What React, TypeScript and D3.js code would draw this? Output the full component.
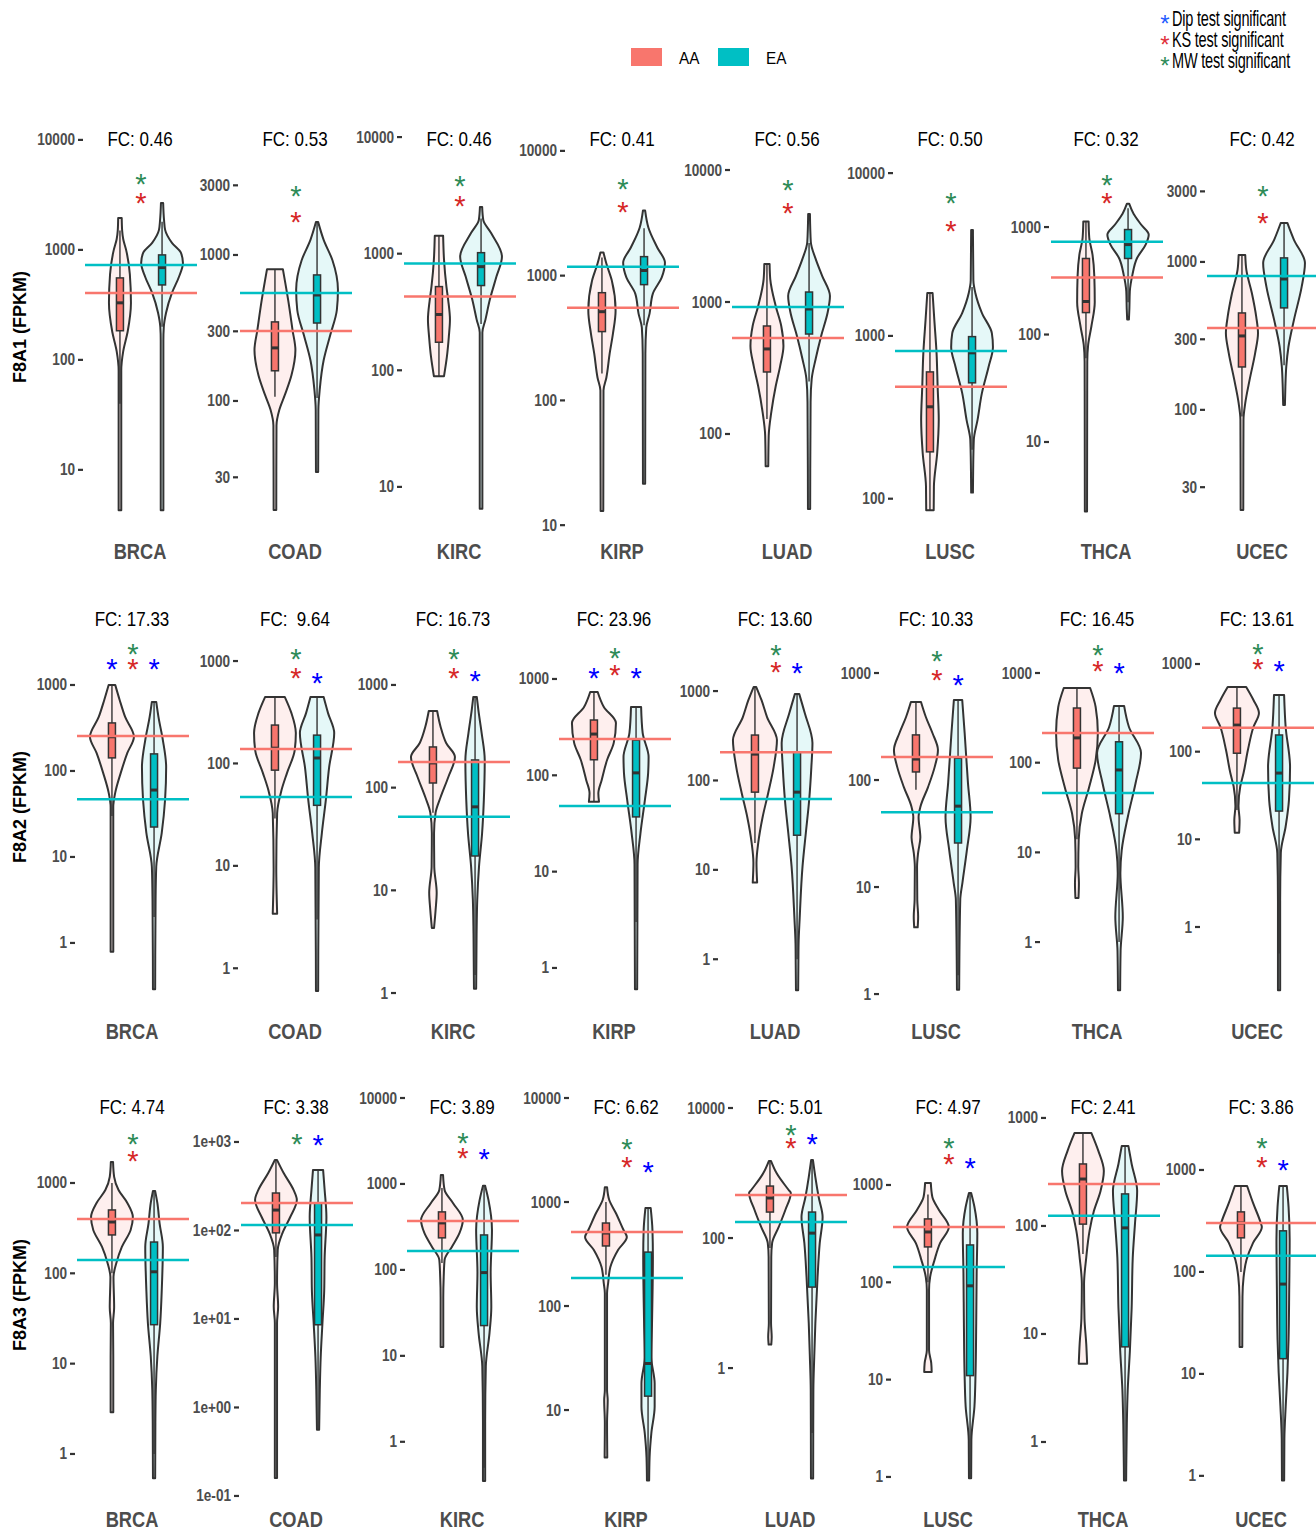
import * as d3 from "d3";

// genes (rows) and cancer types (columns)
const genes = ["F8A1", "F8A2", "F8A3"];
const cancers = ["BRCA", "COAD", "KIRC", "KIRP", "LUAD", "LUSC", "THCA", "UCEC"];

const fcLabels = [
  ["0.46", "0.53", "0.46", "0.41", "0.56", "0.50", "0.32", "0.42"],
  ["17.33", " 9.64", "16.73", "23.96", "13.60", "10.33", "16.45", "13.61"],
  ["4.74", "3.38", "3.89", "6.62", "5.01", "4.97", "2.41", "3.86"],
];

const tickLabels = [
  [["10000", "1000", "100", "10"], ["3000", "1000", "300", "100", "30"], ["10000", "1000", "100", "10"], ["10000", "1000", "100", "10"],
   ["10000", "1000", "100"], ["10000", "1000", "100"], ["1000", "100", "10"], ["3000", "1000", "300", "100", "30"]],
  [["1000", "100", "10", "1"], ["1000", "100", "10", "1"], ["1000", "100", "10", "1"], ["1000", "100", "10", "1"],
   ["1000", "100", "10", "1"], ["1000", "100", "10", "1"], ["1000", "100", "10", "1"], ["1000", "100", "10", "1"]],
  [["1000", "100", "10", "1"], ["1e+03", "1e+02", "1e+01", "1e+00", "1e-01"], ["10000", "1000", "100", "10", "1"], ["10000", "1000", "100", "10"],
   ["10000", "100", "1"], ["1000", "100", "10", "1"], ["1000", "100", "10", "1"], ["1000", "100", "10", "1"]],
];

// y range (FPKM) covered by each panel, bottom to top
const yDomains = [
  [[3.5, 12300], [15.3, 7180], [5.2, 11500], [11, 14700], [22.3, 20100], [74, 18400], [1.88, 8000], [18, 7800]],
  [[0.217, 7450], [0.49, 3150], [0.855, 5370], [0.465, 5200], [0.35, 8070], [0.88, 3880], [0.226, 5040], [0.147, 4130]],
  [[0.42, 8730], [0.123, 3140], [0.29, 10000], [1.78, 10000], [0.0143, 14250], [0.77, 7830], [0.375, 1530], [0.76, 5080]],
];

// violin outlines: [FPKM, relative density]
const aaViolins = [
  [
    [[4.3, 0.06], [80, 0.06], [120, 0.15], [180, 0.35], [330, 0.5], [600, 0.45], [1000, 0.28], [1250, 0.15], [1500, 0.1], [1950, 0.08]],
    [[17.9, 0.06], [68, 0.07], [87, 0.2], [110, 0.45], [150, 0.75], [223, 0.93], [306, 0.8], [492, 0.6], [800, 0.36]],
    [[89, 0.23], [130, 0.36], [195, 0.45], [272, 0.5], [400, 0.42], [522, 0.34], [890, 0.23], [1425, 0.19]],
    [[13, 0.06], [120, 0.07], [152, 0.2], [237, 0.35], [343, 0.5], [524, 0.62], [912, 0.45], [1250, 0.2], [1530, 0.07]],
    [[57, 0.06], [97, 0.08], [147, 0.2], [231, 0.4], [327, 0.6], [464, 0.75], [658, 0.65], [930, 0.4], [1490, 0.15], [1940, 0.12]],
    [[85, 0.17], [119, 0.18], [191, 0.33], [305, 0.4], [487, 0.35], [787, 0.3], [1250, 0.2], [1835, 0.12]],
    [[2.25, 0.05], [56, 0.06], [80, 0.1], [120, 0.25], [200, 0.4], [350, 0.38], [550, 0.3], [800, 0.15], [1125, 0.12]],
    [[21, 0.06], [86, 0.07], [111, 0.15], [160, 0.35], [242, 0.6], [331, 0.73], [425, 0.65], [617, 0.45], [883, 0.2], [1115, 0.15]],
  ],
  [
    [[0.79, 0.06], [3.2, 0.06], [38, 0.06], [56, 0.15], [95, 0.4], [162, 0.7], [250, 1.0], [425, 0.6], [670, 0.35], [1000, 0.15]],
    [[3.4, 0.1], [9.6, 0.06], [32.6, 0.1], [55, 0.3], [81, 0.55], [135, 0.9], [198, 0.95], [310, 0.75], [445, 0.45]],
    [[4.3, 0.05], [6.4, 0.12], [9.5, 0.17], [17, 0.06], [36, 0.05], [57, 0.12], [81, 0.35], [127, 0.7], [199, 1.0], [272, 0.6], [390, 0.35], [558, 0.19]],
    [[53, 0.23], [65, 0.2], [89, 0.35], [145, 0.6], [217, 0.9], [350, 1.0], [512, 0.45], [733, 0.17]],
    [[7.2, 0.1], [12, 0.07], [20, 0.15], [39, 0.35], [72, 0.6], [141, 0.85], [283, 1.0], [512, 0.55], [790, 0.3], [1110, 0.06]],
    [[4.2, 0.08], [5.3, 0.1], [7.6, 0.06], [15.4, 0.05], [21, 0.1], [29, 0.2], [45, 0.12], [56, 0.2], [86, 0.55], [132, 0.85], [191, 1.0], [275, 0.75], [388, 0.45], [536, 0.23]],
    [[3.1, 0.07], [4.6, 0.09], [6.9, 0.06], [14, 0.08], [27, 0.22], [53, 0.55], [107, 0.85], [214, 0.95], [418, 0.85], [680, 0.6]],
    [[11.9, 0.1], [16.5, 0.12], [24, 0.07], [40, 0.15], [57, 0.3], [105, 0.5], [191, 0.75], [276, 1.0], [388, 0.75], [546, 0.42]],
  ],
  [
    [[2.9, 0.06], [12, 0.06], [28, 0.05], [42, 0.1], [91, 0.07], [130, 0.2], [196, 0.45], [302, 0.85], [420, 0.95], [601, 0.7], [836, 0.3], [1170, 0.1], [1710, 0.05]],
    [[0.16, 0.05], [9, 0.05], [13.7, 0.1], [25.6, 0.05], [60, 0.08], [94, 0.3], [142, 0.65], [221, 0.95], [287, 0.8], [446, 0.35], [626, 0.05]],
    [[12.7, 0.06], [48, 0.06], [83, 0.08], [131, 0.12], [185, 0.45], [269, 0.8], [381, 0.95], [601, 0.5], [851, 0.12], [1270, 0.05]],
    [[3.5, 0.06], [7.5, 0.05], [12.5, 0.08], [15.5, 0.05], [133, 0.05], [166, 0.1], [237, 0.2], [346, 0.55], [461, 0.95], [538, 0.8], [784, 0.45], [1045, 0.15], [1390, 0.05]],
    [[2.3, 0.06], [3, 0.08], [4.9, 0.05], [51, 0.06], [84, 0.1], [148, 0.4], [270, 0.7], [493, 0.95], [548, 0.85], [1000, 0.3], [1530, 0.05]],
    [[12, 0.17], [14.8, 0.15], [20, 0.05], [84, 0.05], [114, 0.1], [170, 0.3], [253, 0.55], [370, 0.95], [553, 0.5], [752, 0.2], [1050, 0.13]],
    [[5.3, 0.19], [8.1, 0.15], [14, 0.07], [29, 0.05], [51, 0.15], [90, 0.3], [138, 0.5], [211, 0.8], [323, 0.95], [495, 0.7], [727, 0.38]],
    [[18.4, 0.06], [57, 0.07], [89, 0.12], [131, 0.25], [193, 0.55], [276, 0.95], [302, 0.9], [475, 0.55], [697, 0.28]],
  ],
];

const eaViolins = [
  [
    [[4.3, 0.06], [150, 0.06], [200, 0.08], [267, 0.18], [406, 0.45], [570, 0.77], [760, 0.95], [940, 0.86], [1160, 0.45], [1520, 0.14], [1870, 0.09], [2670, 0.05]],
    [[32.6, 0.05], [87, 0.06], [119, 0.12], [190, 0.3], [283, 0.6], [420, 0.9], [577, 0.95], [920, 0.7], [1270, 0.3], [1680, 0.05]],
    [[6.5, 0.06], [211, 0.06], [272, 0.2], [404, 0.4], [636, 0.7], [943, 0.95], [1510, 0.45], [1950, 0.1], [2520, 0.05]],
    [[21.5, 0.05], [237, 0.06], [383, 0.1], [496, 0.25], [718, 0.4], [964, 0.8], [1270, 0.95], [1680, 0.6], [2420, 0.2], [3320, 0.05]],
    [[27, 0.05], [175, 0.07], [261, 0.12], [370, 0.3], [553, 0.55], [840, 0.85], [1110, 0.95], [1570, 0.6], [2120, 0.3], [2850, 0.08], [4640, 0.04]],
    [[109, 0.04], [150, 0.05], [230, 0.08], [305, 0.25], [447, 0.45], [645, 0.75], [856, 0.95], [1040, 0.9], [1380, 0.45], [1835, 0.15], [2200, 0.06], [4470, 0.04]],
    [[138, 0.04], [174, 0.06], [251, 0.08], [361, 0.2], [510, 0.4], [687, 0.8], [850, 0.94], [1050, 0.6], [1330, 0.25], [1650, 0.05]],
    [[108, 0.04], [143, 0.06], [195, 0.1], [267, 0.2], [406, 0.45], [678, 0.8], [984, 0.95], [1410, 0.45], [1835, 0.15]],
  ],
  [
    [[0.29, 0.05], [3.2, 0.07], [7.7, 0.1], [19, 0.35], [46, 0.5], [111, 0.55], [229, 0.4], [425, 0.2], [635, 0.1]],
    [[0.6, 0.05], [9.6, 0.08], [21, 0.22], [44, 0.4], [92, 0.55], [198, 0.78], [310, 0.5], [445, 0.3]],
    [[1.1, 0.05], [3.8, 0.07], [8.1, 0.1], [17, 0.18], [36, 0.32], [76, 0.4], [186, 0.44], [340, 0.3], [571, 0.15], [764, 0.08]],
    [[0.6, 0.05], [12, 0.07], [25, 0.2], [55, 0.4], [106, 0.55], [155, 0.57], [275, 0.3], [512, 0.23]],
    [[0.45, 0.05], [0.86, 0.06], [1.5, 0.07], [2.9, 0.12], [11, 0.25], [26, 0.4], [60, 0.55], [141, 0.65], [262, 0.7], [567, 0.35], [925, 0.1]],
    [[1.1, 0.05], [7.6, 0.1], [11, 0.2], [22, 0.4], [45, 0.57], [94, 0.45], [275, 0.3], [560, 0.19]],
    [[0.29, 0.05], [0.8, 0.07], [1.9, 0.17], [5.9, 0.06], [10.5, 0.12], [25, 0.4], [59, 0.75], [128, 1.0], [250, 0.45], [430, 0.23]],
    [[0.19, 0.05], [2, 0.05], [7, 0.08], [14, 0.3], [28, 0.45], [67, 0.5], [191, 0.3], [443, 0.23]],
  ],
  [
    [[0.54, 0.05], [2.2, 0.06], [5.1, 0.08], [12, 0.15], [28, 0.28], [65, 0.35], [196, 0.4], [360, 0.25], [601, 0.15], [815, 0.05]],
    [[0.56, 0.05], [1.6, 0.08], [3.7, 0.12], [9, 0.2], [21, 0.28], [50, 0.3], [142, 0.38], [287, 0.3], [483, 0.23]],
    [[0.35, 0.05], [1.7, 0.05], [7.5, 0.08], [18.6, 0.25], [37, 0.33], [93, 0.3], [292, 0.36], [652, 0.2], [950, 0.05]],
    [[2.1, 0.05], [3.5, 0.07], [6, 0.15], [10.8, 0.3], [18, 0.3], [32, 0.15], [68.5, 0.18], [296, 0.22], [538, 0.2], [875, 0.12]],
    [[0.02, 0.05], [0.46, 0.06], [1.5, 0.1], [4.9, 0.15], [25, 0.25], [84, 0.35], [210, 0.48], [427, 0.3], [866, 0.15], [1590, 0.04]],
    [[0.97, 0.05], [2.4, 0.06], [5.3, 0.2], [11.7, 0.25], [38, 0.28], [124, 0.3], [321, 0.33], [594, 0.2], [828, 0.05]],
    [[0.44, 0.05], [1.47, 0.08], [3, 0.12], [7, 0.22], [17.4, 0.3], [51, 0.35], [104, 0.45], [211, 0.55], [375, 0.3], [551, 0.15]],
    [[0.9, 0.05], [2.3, 0.06], [4.8, 0.12], [10.3, 0.2], [21.6, 0.25], [67, 0.28], [206, 0.3], [434, 0.25], [697, 0.17]],
  ],
];

// boxplots: [whisker low, q1, median, q3, whisker high]
const aaBoxes = [
  [[40, 184, 330, 556, 1500], [107, 161, 231, 348, 800], [89, 174, 301, 522, 1425], [164, 356, 514, 730, 1400], [130, 295, 441, 658, 1940], [85, 194, 367, 601, 1835], [60, 160, 203, 510, 1125], [90, 195, 316, 452, 1115]],
  [[30, 142, 250, 362, 1000], [29, 86, 141, 237, 445], [57, 111, 174, 249, 558], [53, 145, 268, 375, 733], [20, 74, 197, 322, 1110], [81, 119, 157, 264, 536], [14, 87, 189, 407, 680], [21.6, 96, 201, 314, 546]],
  [[100, 266, 370, 503, 1000], [50, 94, 170, 265, 626], [120, 236, 352, 473, 900], [200, 378, 503, 628, 1000], [70, 251, 413, 630, 1530], [100, 231, 329, 448, 800], [55, 104, 272, 375, 727], [100, 216, 302, 388, 697]],
];
const eaBoxes = [
  [[200, 480, 690, 900, 1800], [105, 342, 532, 730, 1680], [250, 533, 774, 1020, 2000], [400, 847, 1100, 1420, 2400], [250, 572, 885, 1190, 2800], [200, 515, 787, 990, 2000], [200, 510, 687, 948, 1500], [200, 489, 767, 1065, 1835]],
  [[2, 22.3, 60, 158, 635], [3, 39, 113, 189, 445], [1.5, 21.6, 65, 186, 764], [3, 37, 106, 232, 512], [1, 24.4, 74, 207, 925], [1.5, 25.8, 57, 160, 560], [1, 27, 83, 171, 430], [0.5, 21, 57, 155, 443]],
  [[1, 27, 104, 222, 815], [0.56, 8.6, 89, 204, 483], [0.5, 22.5, 93, 255, 950], [2.1, 13.6, 28, 330, 875], [0.1, 17.6, 119, 251, 1590], [1, 11, 92, 242, 828], [0.44, 7.6, 96, 198, 551], [0.9, 14.1, 76, 253, 697]],
];

// group means (horizontal lines)
const aaMeans = [
  [406, 302, 430, 553, 533, 487, 339, 358],
  [255, 138, 178, 238, 207, 164, 214, 187],
  [399, 204, 371, 515, 458, 370, 245, 302],
];
const eaMeans = [
  [730, 549, 822, 1180, 916, 809, 730, 804],
  [47, 47, 52, 48, 62, 50, 46, 44],
  [140, 115, 166, 186, 176, 144, 124, 144],
];

// significance stars (FPKM position, null = not significant)
const mwStars = [
  [4520, 2785, 4290, 5570, 7840, 7130, 2830, 3070],
  [2690, 1200, 2050, 1910, 2950, 1470, 1850, 1520],
  [3150, 1110, 3520, 3690, 4740, 2770, null, 1880],
];
const ksStars = [
  [3030, 1850, 2890, 3640, 5250, 4800, 1920, 2015],
  [1800, 781, 1340, 1270, 1910, 980, 1230, 1030],
  [2040, null, 2360, 2480, 3000, 1890, null, 1225],
];
const dipAAStars = [
  [null, null, null, null, null, null, null, null],
  [1800, null, null, 1180, null, null, null, null],
  [null, null, null, null, null, null, null, null],
];
const dipEAStars = [
  [null, null, null, null, null, null, null, null],
  [1800, 698, 1250, 1180, 1860, 880, 1170, 975],
  [null, 1080, 2290, 2220, 3450, 1720, null, 1145],
];

const AA = "#F8766D";
const EA = "#00BFC4";
const GREEN = "#2E8B57";
const RED = "#D62728";
const BLUE = "#0000FF";
const DARK = "#333333";
const FONT = "'Liberation Sans', Arial, sans-serif";

const rows = [
  { top: 130, bottom: 520, lefts: [85, 240, 404, 567, 732, 895, 1051, 1207] },
  { top: 610, bottom: 1000, lefts: [77, 240, 398, 559, 720, 881, 1042, 1202] },
  { top: 1098, bottom: 1488, lefts: [77, 241, 407, 571, 735, 893, 1048, 1206] },
];
const PANEL_W = 112;

function Txt({ x, y, s = 0.85, anchor = "middle", children, ...rest }: any) {
  return (
    <text transform={`translate(${x},${y}) scale(${s},1)`} textAnchor={anchor} fontFamily={FONT} {...rest}>
      {children}
    </text>
  );
}

function Star({ x, y, color }: any) {
  return (
    <Txt x={x} y={y + 16} s={1} fill={color} fontSize={29}>
      *
    </Txt>
  );
}

function Violin({ cx, data, box, y, w, color, fill }: any) {
  const area = d3
    .area<number[]>()
    .curve(d3.curveMonotoneY)
    .y((d) => y(d[0]))
    .x0((d) => cx - w(d[1]))
    .x1((d) => cx + w(d[1]));
  const [wlo, q1, med, q3, whi] = box;
  const bw = 3.5;
  return (
    <g>
      <path d={area(data) || ""} fill={fill} stroke={DARK} strokeWidth={2} strokeLinejoin="round" />
      <line x1={cx} x2={cx} y1={y(wlo)} y2={y(whi)} stroke={DARK} strokeWidth={1.4} />
      <rect x={cx - bw} width={bw * 2} y={y(q3)} height={y(q1) - y(q3)} fill={color} stroke={DARK} strokeWidth={1.5} />
      <line x1={cx - bw} x2={cx + bw} y1={y(med)} y2={y(med)} stroke={DARK} strokeWidth={3} />
    </g>
  );
}

function Panel({ r, c }: { r: number; c: number }) {
  const { top, bottom, lefts } = rows[r];
  const left = lefts[c];
  const y = d3.scaleLog().domain(yDomains[r][c]).range([bottom, top]);
  const x = d3.scalePoint().domain(["AA", "EA"]).range([left, left + PANEL_W]).padding(0.83);
  const w = d3.scaleLinear().domain([0, 1]).range([0, 22]);
  const xa = x("AA") as number;
  const xe = x("EA") as number;
  const mid = (xa + xe) / 2;
  const center = left + PANEL_W / 2 - 1;
  return (
    <g>
      {tickLabels[r][c].map((t) => {
        const ty = y(+t);
        return (
          <g key={t}>
            <line x1={left - 7} x2={left - 2} y1={ty} y2={ty} stroke={DARK} strokeWidth={2.2} />
            <Txt x={left - 10} y={ty + 5.5} anchor="end" fontSize={16} fontWeight="bold" fill="#4D4D4D">
              {t}
            </Txt>
          </g>
        );
      })}
      <Violin cx={xa} data={aaViolins[r][c]} box={aaBoxes[r][c]} y={y} w={w} color={AA} fill="#FEEFEE" />
      <Violin cx={xe} data={eaViolins[r][c]} box={eaBoxes[r][c]} y={y} w={w} color={EA} fill="#E5F8F8" />
      <line x1={left} x2={left + PANEL_W} y1={y(aaMeans[r][c])} y2={y(aaMeans[r][c])} stroke={AA} strokeWidth={2.5} />
      <line x1={left} x2={left + PANEL_W} y1={y(eaMeans[r][c])} y2={y(eaMeans[r][c])} stroke={EA} strokeWidth={2.5} />
      {mwStars[r][c] != null && <Star x={mid} y={y(mwStars[r][c] as number)} color={GREEN} />}
      {ksStars[r][c] != null && <Star x={mid} y={y(ksStars[r][c] as number)} color={RED} />}
      {dipAAStars[r][c] != null && <Star x={xa} y={y(dipAAStars[r][c] as number)} color={BLUE} />}
      {dipEAStars[r][c] != null && <Star x={xe} y={y(dipEAStars[r][c] as number)} color={BLUE} />}
      <Txt x={center} y={top + 16} fontSize={20} fill="#000" style={{ whiteSpace: "pre" }}>
        {"FC: " + fcLabels[r][c]}
      </Txt>
      <Txt x={center} y={bottom + 39} s={0.83} fontSize={22} fontWeight="bold" fill="#4D4D4D">
        {cancers[c]}
      </Txt>
    </g>
  );
}

export default function App() {
  const legendRows = [
    { color: "#1F5BFF", label: "Dip test significant" },
    { color: "#E0303A", label: "KS test significant" },
    { color: GREEN, label: "MW test significant" },
  ];
  return (
    <svg width={1316} height={1530} style={{ position: "absolute", left: 0, top: 0, background: "#fff" }}>
      <rect width={1316} height={1530} fill="#fff" />
      {/* group legend */}
      <rect x={631} y={48} width={31} height={18} fill={AA} />
      <Txt x={679} y={64} anchor="start" s={0.9} fontSize={17} fill="#000">AA</Txt>
      <rect x={718} y={48} width={31} height={18} fill={EA} />
      <Txt x={766} y={64} anchor="start" s={0.9} fontSize={17} fill="#000">EA</Txt>
      {/* test legend */}
      {legendRows.map((d, i) => (
        <g key={d.label}>
          <Txt x={1165} y={19 + i * 21 + 13} s={1} fontSize={24} fill={d.color}>*</Txt>
          <Txt x={1172} y={26 + i * 21} anchor="start" s={0.66} fontSize={22} fill="#000" letterSpacing={-0.3}>
            {d.label}
          </Txt>
        </g>
      ))}
      {genes.map((g, r) => (
        <Txt
          key={g}
          x={0}
          y={0}
          s={1}
          transform={`translate(26,${(rows[r].top + rows[r].bottom) / 2 + 2}) rotate(-90)`}
          fontSize={18}
          fontWeight="bold"
          fill="#000"
        >
          {g + " (FPKM)"}
        </Txt>
      ))}
      {rows.map((row, r) => row.lefts.map((_, c) => <Panel key={`${r}-${c}`} r={r} c={c} />))}
    </svg>
  );
}
